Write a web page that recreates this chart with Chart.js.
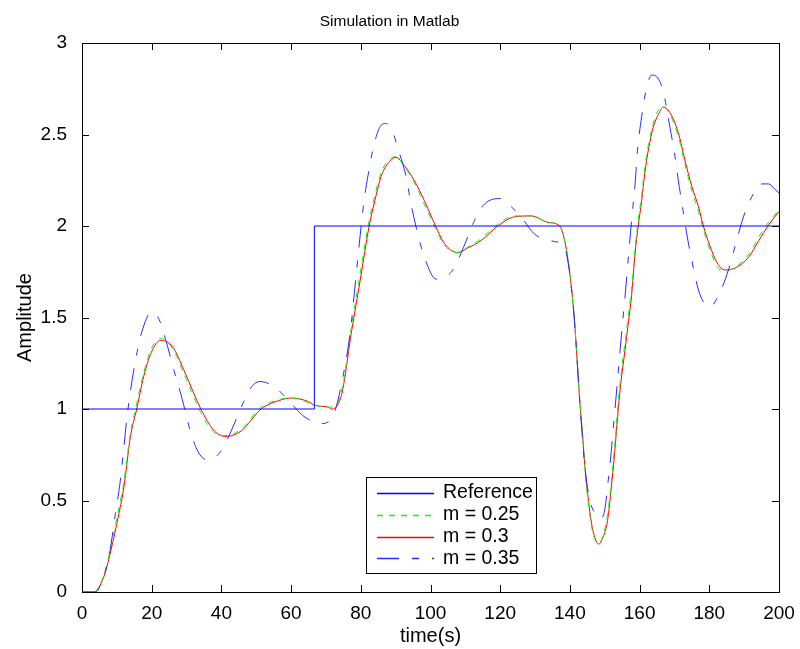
<!DOCTYPE html>
<html>
<head>
<meta charset="utf-8">
<title>Simulation in Matlab</title>
<script src="https://cdn.jsdelivr.net/npm/chart.js@4.4.1/dist/chart.umd.min.js"></script>
<style>
  html, body { margin: 0; padding: 0; background: #fff; }
  #wrap { width: 800px; height: 649px; }
</style>
</head>
<body>
<div id="wrap"><canvas id="simChart" width="800" height="649"></canvas></div>
<script>
// step reference
const refTime = [0, 66.67, 66.67, 200];
const refAmp = [1, 1, 2, 2];

// shared time grid for m = 0.25 and m = 0.3
const simTime = [
    0, 3.4, 6.2, 8.2, 10.6, 12, 13.9, 15.7, 17.6, 19.9,
    22.6, 26, 29.3, 34.1, 38, 41.3, 45.7, 51.4, 56.3, 60.1,
    65, 66.8, 70.7, 71.6, 74.5, 77.4, 79.8, 82.4, 83.8, 85.8,
    87.7, 90.1, 92.5, 95.3, 98.2, 101.1, 104, 107.8, 110.7, 114.5,
    119.3, 124.1, 128.9, 133.7, 137.1, 138.5, 139.5, 140.4, 141.4, 142.2,
    142.8, 143.6, 144.3, 145.2, 146.2, 147.1, 148.3, 149.5, 150.8, 151.9,
    152.9, 153.7, 154.6, 155.8, 156.7, 157.7, 158.7, 159.6, 160.6, 161.5,
    162.5, 163.9, 165.4, 166.8, 168.7, 171.1, 173, 175, 176.9, 178.3,
    180.2, 182.2, 184.5, 187.4, 191.3, 194.2, 197, 200
];

const ampM025 = [
    0, 0, 0.09, 0.24, 0.46, 0.6, 0.87, 1.03, 1.19, 1.33,
    1.385, 1.33, 1.19, 0.98, 0.87, 0.855, 0.89, 1.01, 1.05, 1.06,
    1.035, 1.02, 1.01, 1.01, 1.1, 1.46, 1.74, 2.03, 2.15, 2.29,
    2.355, 2.38, 2.325, 2.24, 2.12, 2.0, 1.895, 1.855, 1.885, 1.93,
    2.01, 2.055, 2.055, 2.02, 2.0, 1.92, 1.81, 1.67, 1.46, 1.23,
    1.05, 0.86, 0.67, 0.5, 0.36, 0.29, 0.265, 0.31, 0.42, 0.61,
    0.81, 1.0, 1.18, 1.36, 1.5, 1.66, 1.88, 2.03, 2.17, 2.32,
    2.44, 2.56, 2.635, 2.65, 2.61, 2.49, 2.34, 2.19, 2.08, 1.98,
    1.87, 1.78, 1.755, 1.775, 1.845, 1.94, 2.02, 2.09
];

const ampM03 = [
    0, 0, 0.08, 0.22, 0.43, 0.57, 0.85, 1.0, 1.17, 1.31,
    1.375, 1.34, 1.21, 1.0, 0.88, 0.85, 0.88, 1.0, 1.045, 1.06,
    1.04, 1.02, 1.01, 1.0, 1.08, 1.43, 1.70, 2.0, 2.12, 2.27,
    2.34, 2.375, 2.33, 2.25, 2.14, 2.015, 1.905, 1.855, 1.88, 1.92,
    2.0, 2.05, 2.055, 2.02, 2.0, 1.92, 1.81, 1.67, 1.46, 1.23,
    1.05, 0.87, 0.685, 0.52, 0.375, 0.30, 0.262, 0.30, 0.39, 0.575,
    0.775, 0.96, 1.14, 1.32, 1.46, 1.62, 1.85, 2.0, 2.14, 2.29,
    2.415, 2.54, 2.61, 2.65, 2.62, 2.51, 2.36, 2.215, 2.105, 2.0,
    1.89, 1.80, 1.76, 1.77, 1.83, 1.92, 2.005, 2.08
];

// m = 0.35 has its own sample times
const timeM035 = [
    0, 4, 5.3, 7.7, 9.6, 11, 12, 13, 14.4, 15.9,
    17.3, 19.9, 22.1, 24, 26.4, 28.8, 30.8, 33.2, 36.1, 39.9,
    42.8, 45.7, 48.6, 51, 55.3, 59.1, 63, 64.4, 68.3, 70.7,
    72.6, 74.5, 76.9, 78.6, 79.5, 80.5, 81.4, 82.4, 83.6, 85.8,
    87.2, 89.1, 90.8, 93, 94.4, 95.8, 96.8, 98.7, 101.6, 104,
    106.4, 110.7, 112.6, 115.5, 120.3, 123.2, 126, 129.9, 135.6, 138,
    139, 140.4, 141.4, 142.8, 144.3, 145.5, 147.5, 148.8, 150, 151,
    151.9, 152.7, 153.6, 154.4, 155, 155.8, 156.7, 157.7, 158.7, 159.4,
    160.6, 161.5, 163.5, 165.8, 167.3, 168.7, 170, 171.1, 172.3, 173.5,
    175, 176.9, 178.5, 180.2, 183.1, 185.5, 187.4, 189.8, 192.2, 195.1,
    197, 198.9, 200
];

const ampM035 = [
    0, 0, 0.04, 0.19, 0.43, 0.61, 0.79, 0.97, 1.16, 1.32,
    1.43, 1.53, 1.49, 1.38, 1.21, 1.05, 0.90, 0.77, 0.72, 0.77,
    0.88, 1.01, 1.12, 1.15, 1.12, 1.05, 0.97, 0.95, 0.92, 0.93,
    0.99, 1.14, 1.41, 1.72, 1.89, 2.07, 2.20, 2.31, 2.43, 2.55,
    2.56, 2.515, 2.415, 2.27, 2.12, 2.0, 1.92, 1.805, 1.71, 1.72,
    1.76, 1.94, 2.03, 2.12, 2.15, 2.105, 2.05, 1.955, 1.915, 1.9,
    1.85, 1.67, 1.46, 1.05, 0.685, 0.52, 0.42, 0.40, 0.45, 0.61,
    0.775, 0.95, 1.14, 1.32, 1.45, 1.61, 1.81, 2.03, 2.23, 2.415,
    2.60, 2.71, 2.825, 2.79, 2.69, 2.54, 2.40, 2.25, 2.105, 1.96,
    1.81, 1.65, 1.58, 1.56, 1.64, 1.76, 1.89, 2.05, 2.16, 2.23,
    2.23, 2.20, 2.18
];

const xTickValues = [0, 20, 40, 60, 80, 100, 120, 140, 160, 180, 200];
const yTickValues = [0, 0.5, 1, 1.5, 2, 2.5, 3];

const seriesLabels = ['Reference', 'm = 0.25', 'm = 0.3', 'm = 0.35'];

const FONT = "'Liberation Sans', Arial, Helvetica, sans-serif";

function toPoints(xs, ys) {
    return xs.map((x, i) => ({ x, y: ys[i] }));
}

const simStyle = {
    pointRadius: 0,
    borderWidth: 1,
    fill: false,
    cubicInterpolationMode: 'monotone'
};

// box, inward ticks and the legend drawn on top of the plot
const matlabFrame = {
    id: 'matlabFrame',
    afterDraw(chart) {
        const { ctx, chartArea: a, scales: { x, y } } = chart;
        const tick = 7;
        ctx.save();
        ctx.strokeStyle = '#000';
        ctx.lineWidth = 1;
        ctx.strokeRect(a.left + 0.5, a.top + 0.5, a.right - a.left, a.bottom - a.top);

        ctx.beginPath();
        x.ticks.forEach(t => {
            const px = Math.round(x.getPixelForValue(t.value)) + 0.5;
            ctx.moveTo(px, a.bottom); ctx.lineTo(px, a.bottom - tick);
            ctx.moveTo(px, a.top); ctx.lineTo(px, a.top + tick);
        });
        y.ticks.forEach(t => {
            const py = Math.round(y.getPixelForValue(t.value)) + 0.5;
            ctx.moveTo(a.left, py); ctx.lineTo(a.left + tick, py);
            ctx.moveTo(a.right, py); ctx.lineTo(a.right - tick, py);
        });
        ctx.stroke();

        // legend
        const box = { left: 366, top: 477, width: 170, height: 96 };
        ctx.fillStyle = '#fff';
        ctx.fillRect(box.left, box.top, box.width, box.height);
        ctx.strokeRect(box.left + 0.5, box.top + 0.5, box.width, box.height);
        ctx.font = '19.5px ' + FONT;
        ctx.textBaseline = 'middle';
        chart.data.datasets.forEach((ds, i) => {
            const rowY = box.top + 16 + i * 21.8;
            ctx.beginPath();
            ctx.setLineDash(ds.borderDash || []);
            ctx.strokeStyle = ds.borderColor;
            ctx.lineWidth = 1.5;
            ctx.moveTo(box.left + 11, Math.round(rowY) + 0.5);
            ctx.lineTo(box.left + 68, Math.round(rowY) + 0.5);
            ctx.stroke();
            ctx.setLineDash([]);
            ctx.fillStyle = '#000';
            ctx.fillText(ds.label, box.left + 77, rowY);
        });
        ctx.restore();
    }
};

new Chart(document.getElementById('simChart').getContext('2d'), {
    type: 'line',
    data: {
        datasets: [
            {
                label: seriesLabels[0],
                data: toPoints(refTime, refAmp),
                borderColor: '#0000ff',
                borderWidth: 1,
                pointRadius: 0,
                tension: 0,
                order: 0
            },
            Object.assign({
                label: seriesLabels[1],
                data: toPoints(simTime, ampM025),
                borderColor: '#00ff00',
                borderDash: [6, 6],
                order: 2
            }, simStyle),
            Object.assign({
                label: seriesLabels[2],
                data: toPoints(simTime, ampM03),
                borderColor: '#ff0000',
                order: 3
            }, simStyle),
            Object.assign({
                label: seriesLabels[3],
                data: toPoints(timeM035, ampM035),
                borderColor: '#2a2aff',
                borderDash: [22, 13, 7, 13],
                order: 1
            }, simStyle)
        ]
    },
    options: {
        responsive: false,
        animation: false,
        layout: { padding: { left: 0, right: 21, top: 0, bottom: 0 } },
        plugins: {
            legend: { display: false },
            tooltip: { enabled: false },
            title: {
                display: true,
                text: 'Simulation in Matlab',
                color: '#000',
                font: { family: FONT, size: 15.5, weight: 'normal', lineHeight: 1.2 },
                padding: { top: 12, bottom: 12.4 }
            }
        },
        scales: {
            x: {
                type: 'linear',
                min: 0,
                max: 200,
                afterBuildTicks: s => { s.ticks = xTickValues.map(v => ({ value: v })); },
                afterFit: s => { s.height = 57; },
                grid: { display: false },
                border: { display: false },
                ticks: {
                    color: '#000',
                    padding: 2,
                    maxRotation: 0,
                    font: { family: FONT, size: 19 },
                    callback: v => String(v)
                },
                title: {
                    display: true,
                    text: 'time(s)',
                    color: '#000',
                    font: { family: FONT, size: 20, lineHeight: 1.2 },
                    padding: { top: 0, bottom: 1 }
                }
            },
            y: {
                min: 0,
                max: 3,
                afterBuildTicks: s => { s.ticks = yTickValues.map(v => ({ value: v })); },
                afterFit: s => { s.width = 82; },
                grid: { display: false },
                border: { display: false },
                ticks: {
                    color: '#000',
                    padding: 7,
                    font: { family: FONT, size: 19 },
                    callback: v => String(v)
                },
                title: {
                    display: true,
                    text: 'Amplitude',
                    color: '#000',
                    font: { family: FONT, size: 20, lineHeight: 1.2 },
                    padding: { top: 13, bottom: 0 }
                }
            }
        }
    },
    plugins: [matlabFrame]
});
</script>
</body>
</html>
